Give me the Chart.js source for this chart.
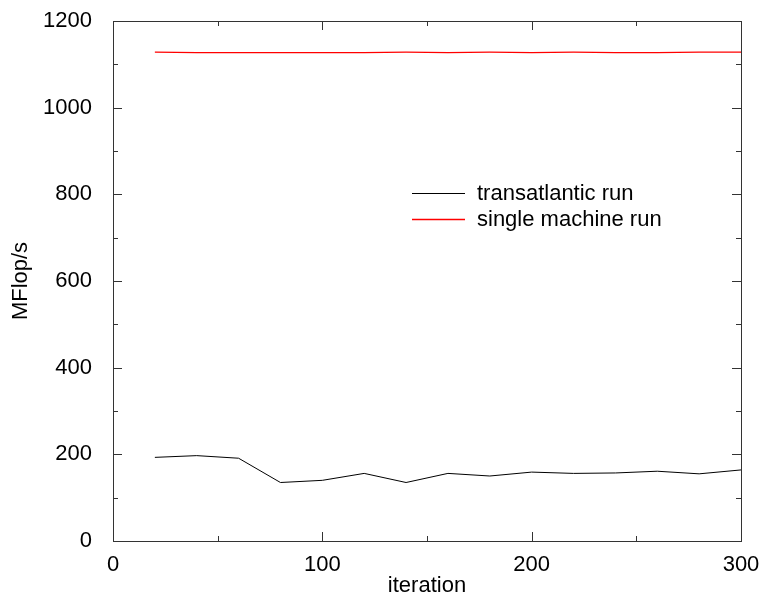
<!DOCTYPE html>
<html>
<head>
<meta charset="utf-8">
<title>MFlop/s per iteration</title>
<script src="https://cdn.jsdelivr.net/npm/chart.js@4.4.1/dist/chart.umd.min.js"></script>
<style>
  html, body { margin: 0; padding: 0; background: #fff; }
  #chart { display: block; }
</style>
</head>
<body>
<canvas id="chart" width="760" height="599"></canvas>
<script>
const iterations = [20, 40, 60, 80, 100, 120, 140, 160, 180, 200, 220, 240, 260, 280, 300];
const transatlantic = [193, 197, 191, 135, 140, 156, 135, 156, 150, 159, 156, 157, 161, 155, 164];
const singleMachine = [1128, 1127, 1127, 1127, 1127, 1127, 1128, 1127, 1128, 1127, 1128, 1127, 1127, 1128, 1128];
const xTicks = [0, 100, 200, 300];
const yTicks = [0, 200, 400, 600, 800, 1000, 1200];

const FONT = 'Liberation Sans, Arial, Helvetica, sans-serif';
const FSIZE = 22;

function toPoints(values) {
  return iterations.map((x, i) => ({ x: x, y: values[i] }));
}

// frame with inward ticks on all four sides, like gnuplot
const framePlugin = {
  id: 'frame',
  afterDatasetsDraw(chart) {
    const ctx = chart.ctx;
    const area = chart.chartArea;
    const xs = chart.scales.x;
    const ys = chart.scales.y;
    ctx.save();
    ctx.strokeStyle = '#333';
    ctx.lineWidth = 1;
    ctx.strokeRect(Math.round(area.left) + 0.5, Math.round(area.top) + 0.5,
      Math.round(area.right - area.left), Math.round(area.bottom - area.top));

    ctx.beginPath();
    for (let v = 0; v <= 300; v += 50) {
      const len = v % 100 === 0 ? 9 : 5;
      const px = Math.round(xs.getPixelForValue(v)) + 0.5;
      ctx.moveTo(px, area.bottom); ctx.lineTo(px, area.bottom - len);
      ctx.moveTo(px, area.top); ctx.lineTo(px, area.top + len);
    }
    for (let v = 0; v <= 1200; v += 100) {
      const len = v % 200 === 0 ? 9 : 5;
      const py = Math.round(ys.getPixelForValue(v)) + 0.5;
      ctx.moveTo(area.left, py); ctx.lineTo(area.left + len, py);
      ctx.moveTo(area.right, py); ctx.lineTo(area.right - len, py);
    }
    ctx.stroke();
    ctx.restore();
  }
};

// legend placed inside the plot
const legendPlugin = {
  id: 'insideLegend',
  afterDatasetsDraw(chart) {
    const ctx = chart.ctx;
    ctx.save();
    ctx.font = FSIZE + 'px ' + FONT;
    ctx.textBaseline = 'middle';
    chart.data.datasets.forEach((ds, i) => {
      const y = 193 + i * 26;
      ctx.strokeStyle = ds.borderColor;
      ctx.lineWidth = ds.borderWidth;
      ctx.beginPath();
      ctx.moveTo(412, y + 0.5);
      ctx.lineTo(465, y + 0.5);
      ctx.stroke();
      ctx.fillStyle = '#000';
      ctx.fillText(ds.label, 477, y + 1);
    });
    ctx.restore();
  }
};

document.addEventListener('DOMContentLoaded', function() {
  const ctx = document.getElementById('chart').getContext('2d');
  new Chart(ctx, {
    type: 'line',
    data: {
      datasets: [{
        label: 'transatlantic run',
        data: toPoints(transatlantic),
        borderColor: '#000000',
        borderWidth: 1,
        pointRadius: 0,
        tension: 0
      }, {
        label: 'single machine run',
        data: toPoints(singleMachine),
        borderColor: '#ff0000',
        borderWidth: 1.3,
        pointRadius: 0,
        tension: 0
      }]
    },
    options: {
      responsive: false,
      animation: false,
      layout: { padding: { left: 6, right: 19, top: 21, bottom: 0 } },
      plugins: {
        legend: { display: false },
        tooltip: { enabled: false }
      },
      scales: {
        x: {
          type: 'linear',
          min: 0,
          max: 300,
          afterBuildTicks: s => { s.ticks = xTicks.map(v => ({ value: v })); },
          afterFit: s => { s.height = 58; s.paddingLeft = 0; s.paddingRight = 0; },
          grid: { display: false },
          border: { display: false },
          ticks: { color: '#000', padding: 3, maxRotation: 0, font: { size: FSIZE, family: FONT } },
          title: { display: true, text: 'iteration', color: '#000', padding: 0, font: { size: FSIZE, family: FONT } }
        },
        y: {
          min: 0,
          max: 1200,
          afterBuildTicks: s => { s.ticks = yTicks.map(v => ({ value: v })); },
          afterFit: s => { s.width = 107; s.paddingTop = 0; s.paddingBottom = 0; },
          grid: { display: false },
          border: { display: false },
          ticks: { color: '#000', padding: 13, font: { size: FSIZE, family: FONT }, callback: v => String(v) },
          title: { display: true, text: 'MFlop/s', color: '#000', padding: { top: 2, bottom: 0 }, font: { size: FSIZE, family: FONT } }
        }
      }
    },
    plugins: [framePlugin, legendPlugin]
  });
});
</script>
</body>
</html>
